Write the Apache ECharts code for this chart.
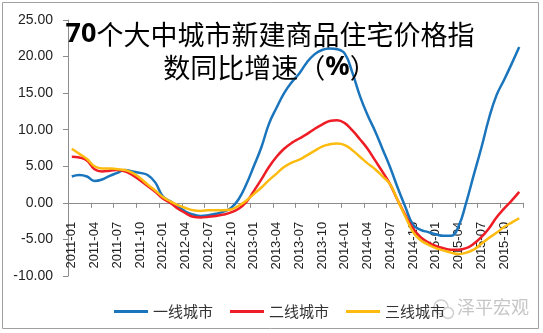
<!DOCTYPE html>
<html>
<head>
<meta charset="utf-8">
<script src="https://cdn.jsdelivr.net/npm/echarts@6/dist/echarts.min.js"></script>
<style>
  html, body { margin: 0; padding: 0; background: #fff; }
  #chart { width: 543px; height: 333px; }
</style>
</head>
<body>
<div id="chart"></div>
<script>
// Monthly categories 2011-01 .. 2015-12
const months = [];
for (let y = 2011; y <= 2015; y++) {
  for (let m = 1; m <= 12; m++) months.push(y + '-' + (m < 10 ? '0' + m : m));
}

const seriesNames = ['一线城市', '二线城市', '三线城市'];

// Year-on-year growth of new home prices, %
const tier1 = [3.6, 3.8, 3.6, 3.0, 3.2, 3.7, 4.1, 4.5, 4.3, 4.1, 3.8, 2.8,
  0.9, 0.2, -0.5, -1.2, -1.6, -1.8, -1.7, -1.5, -1.2, -0.7, 0.5, 2.5,
  5.0, 7.6, 10.8, 13.0, 15.0, 16.5, 17.7, 19.2, 20.3, 20.9, 21.1, 21.0,
  20.4, 17.8, 14.6, 12.0, 9.8, 7.3, 4.8, 2.0, -0.6, -3.0, -3.7, -4.0,
  -4.3, -4.5, -4.5, -3.2, 0.0, 3.8, 7.5, 11.5, 14.7, 16.8, 19.0, 21.3];

const tier2 = [6.3, 6.2, 5.8, 4.6, 4.3, 4.4, 4.5, 4.3, 3.8, 3.1, 2.3, 1.5,
  0.6, 0.0, -0.8, -1.4, -1.9, -2.0, -1.9, -1.8, -1.6, -1.3, -0.8, 0.1,
  1.6, 3.2, 4.9, 6.3, 7.4, 8.2, 8.8, 9.4, 10.1, 10.7, 11.2, 11.3,
  10.9, 9.9, 8.7, 7.4, 5.8, 4.2, 2.5, 0.3, -1.7, -3.5, -4.7, -5.4,
  -5.9, -6.2, -6.4, -6.4, -6.2, -5.6, -4.7, -3.5, -2.0, -0.8, 0.3, 1.5];

const tier3 = [7.4, 6.7, 6.0, 5.0, 4.7, 4.7, 4.6, 4.5, 4.1, 3.4, 2.5, 1.7,
  0.8, 0.2, -0.3, -0.7, -1.0, -1.1, -1.0, -1.0, -1.0, -0.9, -0.4, 0.3,
  1.2, 2.1, 3.1, 4.0, 4.9, 5.5, 5.9, 6.5, 7.1, 7.7, 8.0, 8.1,
  7.9, 7.2, 6.3, 5.4, 4.6, 3.6, 2.5, 0.3, -1.9, -4.0, -5.1, -5.7,
  -6.2, -6.5, -6.8, -7.0, -6.8, -6.4, -5.6, -4.8, -4.1, -3.3, -2.7, -2.1];

const yTicks = { min: -10, max: 25, interval: 5 };

const colors = ['#1a75bc', '#ee1c25', '#fdbb10'];

// Plot box in pixels
const W = 543, H = 333;
const gridBox = { left: 68, right: 20, top: 20, bottom: 57 };
const plotH = H - gridBox.top - gridBox.bottom;
// Category axis sits on the value 0 line, labels hang just below it
const zeroOffset = -((0 - yTicks.min) / (yTicks.max - yTicks.min)) * plotH;

const chart = echarts.init(document.getElementById('chart'), null, { renderer: 'canvas' });

const mkSeries = (name, data, color) => ({
  name: name,
  type: 'line',
  data: data,
  smooth: 0.45,
  showSymbol: false,
  symbol: 'none',
  lineStyle: { color: color, width: 2.5 },
  itemStyle: { color: color },
  animation: false
});

chart.setOption({
  animation: false,
  backgroundColor: '#fff',
  title: {
    text: '{b|70}个大中城市新建商品住宅价格指\n数同比增速（{b|%}）',
    left: 265,
    top: 13,
    textAlign: 'center',
    textStyle: {
      fontFamily: 'Noto Sans CJK SC',
      fontSize: 27,
      fontWeight: 'normal',
      color: '#000',
      lineHeight: 33,
      rich: {
        b: { fontFamily: 'Noto Sans', fontWeight: 'bold', fontSize: 27, color: '#000', lineHeight: 33 }
      }
    }
  },
  grid: {
    left: gridBox.left, right: gridBox.right, top: gridBox.top, bottom: gridBox.bottom,
    containLabel: false,
    outerBoundsMode: 'none'
  },
  legend: {
    data: seriesNames.map(n => ({ name: n, icon: 'rect' })),
    left: 109,
    top: 299,
    itemWidth: 34,
    itemHeight: 3,
    itemGap: 17,
    textStyle: { fontFamily: 'Noto Sans CJK SC', fontSize: 15, color: '#333' }
  },
  xAxis: {
    type: 'category',
    data: months,
    boundaryGap: true,
    position: 'bottom',
    offset: zeroOffset,
    axisLine: { onZero: false, lineStyle: { color: '#8c8c8c', width: 1 } },
    axisTick: { show: true, interval: 2, length: 5, lineStyle: { color: '#8c8c8c' } },
    axisLabel: {
      interval: 2,
      rotate: 90,
      margin: 19,
      fontFamily: 'Liberation Sans',
      fontSize: 13,
      color: '#222'
    },
    splitLine: { show: false }
  },
  yAxis: {
    type: 'value',
    min: yTicks.min,
    max: yTicks.max,
    interval: yTicks.interval,
    axisLine: { show: true, lineStyle: { color: '#8c8c8c', width: 1 } },
    axisTick: { show: true, length: 5, lineStyle: { color: '#8c8c8c' } },
    axisLabel: {
      formatter: v => v.toFixed(2),
      margin: 15,
      fontFamily: 'Liberation Sans',
      fontSize: 14,
      color: '#222'
    },
    splitLine: { show: false }
  },
  series: [
    mkSeries(seriesNames[0], tier1, colors[0]),
    mkSeries(seriesNames[1], tier2, colors[1]),
    mkSeries(seriesNames[2], tier3, colors[2])
  ],
  graphic: [
    {
      type: 'rect',
      shape: { x: 2.5, y: 2.5, width: 536, height: 326 },
      style: { fill: null, stroke: '#a0a0a0', lineWidth: 1 },
      silent: true
    },
    {
      type: 'circle',
      shape: { cx: 441, cy: 307, r: 7 },
      style: { fill: null, stroke: '#cfcfcf', lineWidth: 1.5 },
      silent: true
    },
    {
      type: 'circle',
      shape: { cx: 448, cy: 313, r: 5.5 },
      style: { fill: '#fff', stroke: '#cfcfcf', lineWidth: 1.5 },
      silent: true
    },
    {
      type: 'text',
      left: 457,
      top: 298,
      style: {
        text: '泽平宏观',
        fontFamily: 'Noto Sans CJK SC',
        fontSize: 18,
        fill: '#c6c6c6'
      },
      silent: true
    }
  ]
});
</script>
</body>
</html>
